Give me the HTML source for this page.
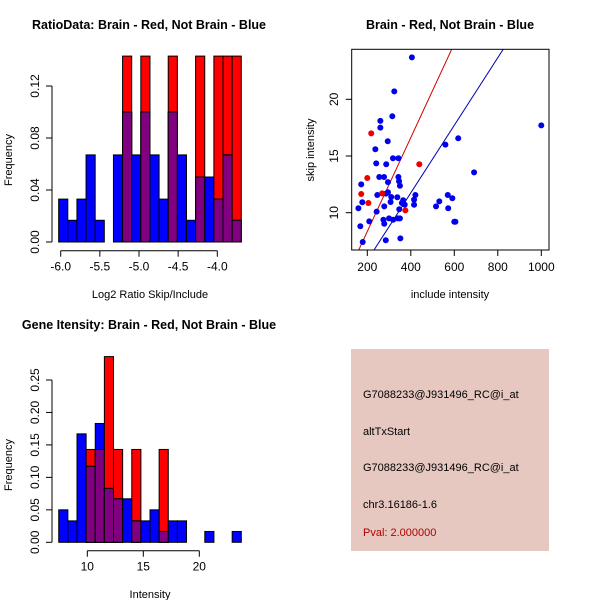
<!DOCTYPE html>
<html><head><meta charset="utf-8"><style>
body{margin:0;background:#fff}
svg{display:block;font-family:"Liberation Sans",sans-serif}
</style></head><body>
<svg id="s" width="600" height="600" viewBox="0 0 600 600">
<rect width="600" height="600" fill="#fff"/>
<g id="info">
<rect x="351" y="349" width="198" height="202" fill="#e6c8c1"/>
<text x="363" y="398" font-size="11">G7088233@J931496_RC@i_at</text>
<text x="363" y="435" font-size="11">altTxStart</text>
<text x="363" y="471" font-size="11">G7088233@J931496_RC@i_at</text>
<text x="363" y="508" font-size="11">chr3.16186-1.6</text>
<text x="363" y="536" font-size="11" fill="#b00000">Pval: 2.000000</text>
</g>
</svg>
<script>
// ---- Histogram 1 data
const ratioBinStart = -6.026, ratioBinWidth = 0.1166;
const ratioBlue = [0.033,0.0167,0.033,0.067,0.0167,0,0.067,0.1,0.067,0.1,0.067,0.033,0.1,0.067,0.0167,0.05,0.05,0.033,0.067,0.0167];
const ratioRed  = [0,0,0,0,0,0,0,0.143,0,0.143,0,0,0.143,0,0,0.143,0,0.143,0.143,0.143];
const ratioXTicks = [-6.0,-5.5,-5.0,-4.5,-4.0];
const ratioXTickLabels = ["-6.0","-5.5","-5.0","-4.5","-4.0"];
const ratioYTicks = [0,0.04,0.08,0.12];
const ratioYTickLabels = ["0.00","0.04","0.08","0.12"];
// ---- Histogram 2 data
const geneBinStart = 7.45, geneBinWidth = 0.815;
const geneBlue = [0.05,0.033,0.167,0.117,0.183,0.083,0.067,0.067,0.033,0.033,0.05,0.0167,0.033,0.033,0,0,0.0167,0,0,0.0167];
const geneRed  = [0,0,0,0.143,0.143,0.286,0.143,0,0.143,0,0,0.143,0,0,0,0,0,0,0,0];
const geneXTicks = [10,15,20];
const geneXTickLabels = ["10","15","20"];
const geneYTicks = [0,0.05,0.10,0.15,0.20,0.25];
const geneYTickLabels = ["0.00","0.05","0.10","0.15","0.20","0.25"];
// ---- Scatter data
const blueInclude = [405,324,315,260,260,294,237,318,343,241,287,255,277,343,295,346,350,172,246,295,286,310,338,365,421,415,415,307,278,359,372,177,159,243,347,209,274,300,278,319,340,350,168,179,285,352,516,531,559,570,572,618,591,600,605,691,1000];
const blueSkip    = [23.7,20.7,18.5,18.1,17.5,16.3,15.6,14.8,14.8,14.35,14.27,13.15,13.15,13.15,12.7,12.77,12.38,12.5,11.56,11.8,11.68,11.38,11.36,11.1,11.56,11.15,10.7,10.94,10.56,10.86,10.71,10.92,10.39,10.09,10.3,9.24,9.38,9.5,9.03,9.38,9.5,9.5,8.8,7.42,7.57,7.74,10.56,11.0,16.0,11.56,10.39,16.56,11.27,9.2,9.2,13.56,17.7];
const redInclude  = [218,439,200,172,268,205,375];
const redSkip     = [17.0,14.27,13.06,11.65,11.7,10.86,10.21];
const lineSlopes = [0.0414,0.0298];
const lineIntercepts = [0.065,-0.17];
const lineColors = ["#d00000","#0000b0"];
const scatterXTicks = [200,400,600,800,1000];
const scatterYTicks = [10,15,20];

const NS="http://www.w3.org/2000/svg";
const svg=document.getElementById('s');
const info=document.getElementById('info');
function mk(tag,attrs,parent,txt){const e=document.createElementNS(NS,tag);for(const k in attrs)e.setAttribute(k,attrs[k]);if(txt!==undefined)e.textContent=txt;if(parent)parent.appendChild(e);else svg.insertBefore(e,info);return e;}

function hist(o){
  const sx=v=>o.x0+(v-o.v0)*o.kx, sy=v=>o.y0-v*o.ky;
  const g=document.createElementNS(NS,'g');svg.insertBefore(g,info);
  
  
  const n=o.blue.length;
  for(let i=0;i<n;i++){
    const a=sx(o.binStart+i*o.binW), b=sx(o.binStart+(i+1)*o.binW);
    const bl=o.blue[i], rd=o.red[i], ov=Math.min(bl,rd);
    const draw=(v,c,nm)=>{const r=document.createElementNS(NS,'rect');
      r.setAttribute('x',a);r.setAttribute('y',sy(v));r.setAttribute('width',b-a);r.setAttribute('height',Math.max(0,o.y0-sy(v)));
      r.setAttribute('fill',c);r.setAttribute('stroke','#000');r.setAttribute('stroke-width','1');
      
      
      g.appendChild(r);};
    if(rd>0) draw(rd,'#ff0000','red-bar-'+i);
    if(bl>0) draw(bl,'#0000ff','blue-bar-'+i);
    if(ov>0) draw(ov,'#800080','overlap-bar-'+i);
  }
  const ax=mk('line',{x1:sx(o.xt[0]),x2:sx(o.xt[o.xt.length-1]),y1:o.axY,y2:o.axY,stroke:'#000'});
  
  
  o.xt.forEach((t,i)=>{mk('line',{x1:sx(t),x2:sx(t),y1:o.axY,y2:o.axY+6,stroke:'#000'});
    const tl=mk('text',{x:sx(t),y:o.axY+20,'font-size':12,'text-anchor':'middle'},null,o.xl[i]);
    
    });
  const ay=mk('line',{x1:o.axX,x2:o.axX,y1:sy(o.yt[0]),y2:sy(o.yt[o.yt.length-1]),stroke:'#000'});
  
  
  o.yt.forEach((t,i)=>{mk('line',{x1:o.axX-6,x2:o.axX,y1:sy(t),y2:sy(t),stroke:'#000'});
    const tl=mk('text',{x:o.axX-13,y:sy(t),'font-size':12,'text-anchor':'middle',transform:`rotate(-90 ${o.axX-13} ${sy(t)})`},null,o.yl[i]);
    
    });
}
hist({name:'ratio-histogram',blue:ratioBlue,red:ratioRed,binStart:ratioBinStart,binW:ratioBinWidth,v0:-6.0,x0:60.7,kx:78.3,y0:242,ky:1300,axY:250.7,axX:52,xt:ratioXTicks,xl:ratioXTickLabels,yt:ratioYTicks,yl:ratioYTickLabels});
hist({name:'gene-histogram',blue:geneBlue,red:geneRed,binStart:geneBinStart,binW:geneBinWidth,v0:10,x0:87.3,kx:11.2,y0:542.3,ky:649.3,axY:550.7,axX:52,xt:geneXTicks,xl:geneXTickLabels,yt:geneYTicks,yl:geneYTickLabels});

// scatter
const SX=v=>367.3+(v-200)*0.2175, SY=v=>212.7-(v-10)*11.34;
const defs=mk('defs',{});
const cp=mk('clipPath',{id:'cp'},defs);
mk('rect',{x:351.7,y:49.3,width:197.3,height:200.7},cp);
const sg=mk('g',{'clip-path':'url(#cp)'});


lineSlopes.forEach((m,i)=>{const l=mk('line',{x1:SX(100),y1:SY(lineIntercepts[i]+m*100),x2:SX(1100),y2:SY(lineIntercepts[i]+m*1100),stroke:lineColors[i],'stroke-width':1},sg);
  
  });
blueInclude.forEach((v,i)=>{const c=mk('circle',{cx:SX(v),cy:SY(blueSkip[i]),r:3,fill:'#0000ee'},sg);
  
  });
redInclude.forEach((v,i)=>{const c=mk('circle',{cx:SX(v),cy:SY(redSkip[i]),r:3,fill:'#ee0000'},sg);
  
  });
const box=mk('rect',{x:351.7,y:49.3,width:197.3,height:200.7,fill:'none',stroke:'#000'});


scatterXTicks.forEach(t=>{mk('line',{x1:SX(t),x2:SX(t),y1:250,y2:256,stroke:'#000'});
  const tl=mk('text',{x:SX(t),y:271,'font-size':12,'text-anchor':'middle'},null,String(t));
  
  });
scatterYTicks.forEach(t=>{mk('line',{x1:345.7,x2:351.7,y1:SY(t),y2:SY(t),stroke:'#000'});
  const tl=mk('text',{x:338,y:SY(t),'font-size':12,'text-anchor':'middle',transform:`rotate(-90 338 ${SY(t)})`},null,String(t));
  
  });
</script>
<div style="position:absolute;left:0;top:0;width:600px;height:600px;pointer-events:none">
<svg width="600" height="600" style="font-family:'Liberation Sans',sans-serif">
<text x="149" y="29" font-size="12.5" font-weight="bold" text-anchor="middle">RatioData: Brain - Red, Not Brain - Blue</text>
<text x="150" y="298" font-size="11" text-anchor="middle">Log2 Ratio Skip/Include</text>
<text x="12" y="160" font-size="11" text-anchor="middle" transform="rotate(-90 12 160)">Frequency</text>
<text x="450" y="29" font-size="12.5" font-weight="bold" text-anchor="middle">Brain - Red, Not Brain - Blue</text>
<text x="450" y="298" font-size="11" text-anchor="middle">include intensity</text>
<text x="314" y="150" font-size="11" text-anchor="middle" transform="rotate(-90 314 150)">skip intensity</text>
<text x="149" y="329" font-size="12.5" font-weight="bold" text-anchor="middle">Gene Itensity: Brain - Red, Not Brain - Blue</text>
<text x="150" y="598" font-size="11" text-anchor="middle">Intensity</text>
<text x="12" y="465" font-size="11" text-anchor="middle" transform="rotate(-90 12 465)">Frequency</text>
</svg></div>
</body></html>
